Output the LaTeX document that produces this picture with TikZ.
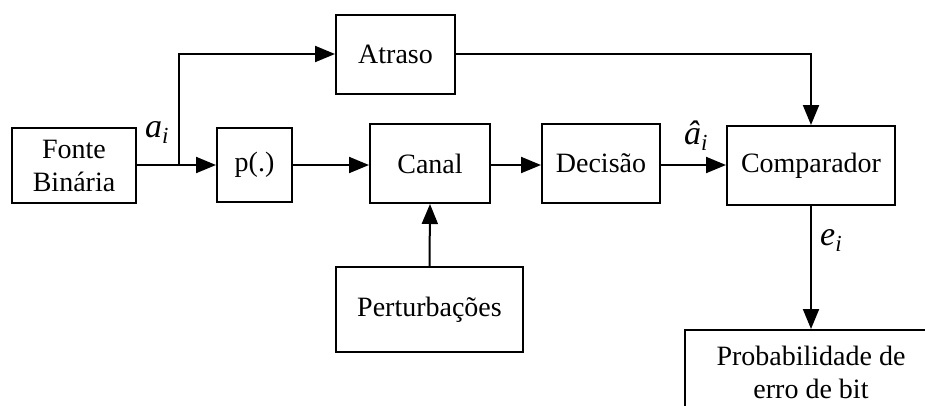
\documentclass[tikz,border=0pt]{standalone}
\usepackage{fontspec}
\setmainfont{Liberation Serif}
\usetikzlibrary{arrows.meta}
\newcommand{\lbl}[2]{\textit{#1}\raisebox{-0.2em}{\fontsize{23}{23}\selectfont\textit{#2}}}
\tikzset{
  blk/.style={draw, line width=2pt, align=center, inner sep=0pt,
    font=\fontsize{28}{33}\selectfont},
  conn/.style={line width=2pt, -{Triangle[length=20pt,width=16pt]}},
  wire/.style={line width=2pt},
  sym/.style={font=\fontsize{34}{34}\selectfont, inner sep=0pt, anchor=base west}
}
\begin{document}
\begin{tikzpicture}[x=1pt,y=-1pt]
\useasboundingbox (0,0) rectangle (925,405);
\clip (0,0) rectangle (925,405);
\node[blk, minimum width=124, minimum height=75] (fonte) at (74,165.5) {Fonte\\Binária};
\node[blk, minimum width=75, minimum height=74] (p) at (254.5,165) {p(.)};
\node[blk, minimum width=120, minimum height=79] (canal) at (430,163.5) {Canal};
\node[blk, minimum width=118, minimum height=79] (dec) at (601,163.5) {Decisão};
\node[blk, minimum width=168, minimum height=79] (comp) at (811,165.5) {Comparador};
\node[blk, minimum width=119, minimum height=79] (atraso) at (395.5,54) {Atraso};
\node[blk, minimum width=187, minimum height=85] (pert) at (429.5,309.5) {Perturbações};
\node[blk, minimum width=252, minimum height=84] (prob) at (811,372) {Probabilidade de\\erro de bit};
\coordinate (j) at (179,165);
\draw[wire] (fonte.east |- j) -- (j);
\draw[conn] (j) -- (p.west |- j);
\draw[conn] (j) |- (atraso.west);
\draw[conn] (p.east |- j) -- (canal.west |- j);
\draw[conn] (canal.east |- j) -- (dec.west |- j);
\draw[conn] (dec.east |- j) -- (comp.west |- j);
\draw[conn] (atraso.east) -| (comp.north);
\draw[conn] (pert.north) -- (canal.south);
\draw[conn] (comp.south) -- (prob.north);
\node[sym] (ai) at (145,137) {\lbl{a}{i}};
\node[sym] (ahat) at (684,144) {\lbl{â}{i}};
\node[sym] (ei) at (820,245) {\lbl{e}{i}};
\end{tikzpicture}
\end{document}
